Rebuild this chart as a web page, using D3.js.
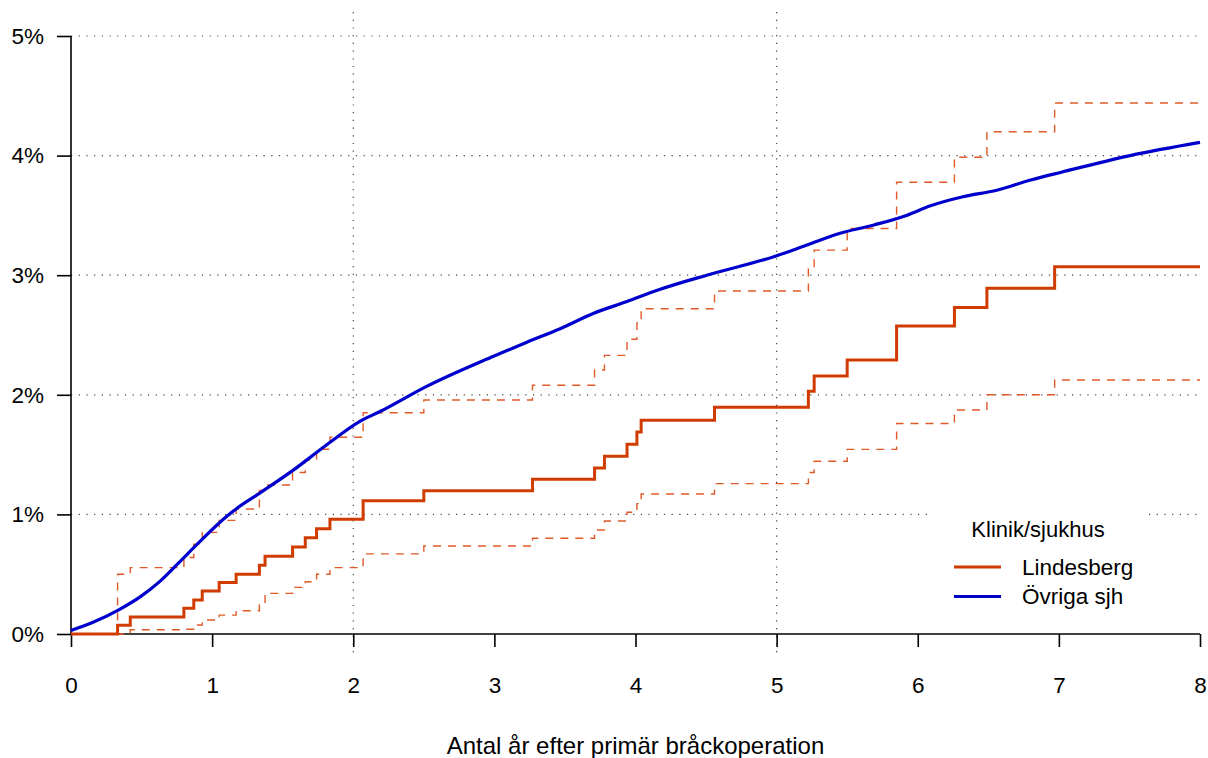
<!DOCTYPE html>
<html>
<head>
<meta charset="utf-8">
<script src="https://cdn.jsdelivr.net/npm/d3@7"></script>
<style>
  body { margin: 0; background: #fff; }
  text { font-family: "Liberation Sans", Arial, sans-serif; fill: #000; }
</style>
</head>
<body>
<div id="chart"></div>
<script>
var width = 1208, height = 758;
var margin = {top: 36, right: 8, bottom: 124, left: 71};

// Lindesberg: step times (years) with estimate and confidence band (%)
var stepTimes = [0, 0.33, 0.42, 0.80, 0.87, 0.93, 1.05, 1.17, 1.335, 1.375, 1.57, 1.66, 1.74, 1.835, 2.07, 2.50,
  3.27, 3.71, 3.78, 3.94, 4.01, 4.04, 4.56, 5.225, 5.266, 5.50, 5.85, 6.26, 6.49, 6.97, 8];
var lindEst = [0, 0.073, 0.142, 0.215, 0.284, 0.36, 0.43, 0.50, 0.575, 0.65, 0.727, 0.805, 0.88, 0.96, 1.115, 1.198,
  1.293, 1.388, 1.486, 1.586, 1.689, 1.787, 1.895, 2.03, 2.157, 2.29, 2.575, 2.73, 2.89, 3.07, 3.07];
var lindUpper = [0, 0.50, 0.555, 0.64, 0.75, 0.85, 0.95, 1.045, 1.20, 1.246, 1.35, 1.455, 1.545, 1.645, 1.85, 1.957,
  2.08, 2.207, 2.33, 2.464, 2.6, 2.72, 2.868, 3.05, 3.21, 3.39, 3.777, 3.986, 4.2, 4.44, 4.44];
var lindLower = [0, 0, 0.035, 0.04, 0.075, 0.117, 0.158, 0.195, 0.243, 0.34, 0.39, 0.437, 0.50, 0.555, 0.67, 0.736,
  0.80, 0.87, 0.945, 1.018, 1.09, 1.17, 1.257, 1.35, 1.445, 1.544, 1.76, 1.873, 2.0, 2.124, 2.124];

// Övriga sjh: curve
var otherTimes = [0, 0.16, 0.335, 0.49, 0.63, 0.83, 1.10, 1.174, 1.34, 1.575, 1.81, 2.05, 2.19, 2.52, 2.99, 3.23,
  3.47, 3.70, 3.94, 4.17, 4.505, 4.98, 5.21, 5.45, 5.69, 5.92, 6.09, 6.32, 6.56, 6.80, 7.03, 7.505, 8.0];
var otherVals = [0.03, 0.10, 0.20, 0.31, 0.44, 0.675, 0.98, 1.05, 1.18, 1.37, 1.58, 1.78, 1.86, 2.07, 2.32, 2.44,
  2.555, 2.68, 2.78, 2.88, 3.0, 3.155, 3.25, 3.35, 3.42, 3.50, 3.58, 3.656, 3.71, 3.796, 3.865, 4.0, 4.11];

var xTicks = [0, 1, 2, 3, 4, 5, 6, 7, 8];
var yTicks = [0, 1, 2, 3, 4, 5];
var xGrid = [2, 5];
var legendNames = ["Lindesberg", "Övriga sjh"];
var legendColors = ["#d03c00", "#0000cc"];

var svg = d3.select("#chart").append("svg")
  .attr("width", width)
  .attr("height", height);

var x = d3.scaleLinear().domain([0, 8]).range([margin.left, width - margin.right]);
var y = d3.scaleLinear().domain([0, 5]).range([height - margin.bottom, margin.top]);

// grid
svg.selectAll(".hgrid").data(yTicks.slice(1)).enter().append("line")
  .attr("x1", x(0)).attr("x2", x(8))
  .attr("y1", function(d){ return y(d); }).attr("y2", function(d){ return y(d); })
  .attr("stroke", "#444").attr("stroke-width", 1.2).attr("stroke-dasharray", "1.2,6.5");
svg.selectAll(".vgrid").data(xGrid).enter().append("line")
  .attr("x1", function(d){ return x(d); }).attr("x2", function(d){ return x(d); })
  .attr("y1", 12).attr("y2", 658)
  .attr("stroke", "#444").attr("stroke-width", 1.2).attr("stroke-dasharray", "1.2,6.5");

// axes
var xAxis = svg.append("g")
  .attr("transform", "translate(0," + y(0) + ")")
  .call(d3.axisBottom(x).tickValues(xTicks).tickSize(13).tickPadding(30).tickFormat(d3.format("d")));
var yAxis = svg.append("g")
  .attr("transform", "translate(" + x(0) + ",0)")
  .call(d3.axisLeft(y).tickValues(yTicks).tickSize(14).tickPadding(13).tickFormat(function(d){ return d + "%"; }));
[xAxis, yAxis].forEach(function(g){
  g.select(".domain").attr("stroke", "#000").attr("stroke-width", 1.6);
  g.selectAll(".tick line").attr("stroke", "#000").attr("stroke-width", 1.6);
  g.selectAll(".tick text").attr("font-size", "22.5px").attr("font-family", "Liberation Sans, Arial, sans-serif").attr("fill", "#000");
});
xAxis.select(".domain").attr("d", "M" + x(0) + ",0H" + x(8));
yAxis.select(".domain").attr("d", "M0," + y(0) + "V" + y(5));

// legend box (white, covers gridlines)
svg.append("rect")
  .attr("x", 931).attr("y", 503).attr("width", 217).attr("height", 125)
  .attr("fill", "#fff");

// series
function pts(ts, vs){ return ts.map(function(t, i){ return [t, vs[i]]; }); }
var stepLine = d3.line().x(function(d){ return x(d[0]); }).y(function(d){ return y(d[1]); }).curve(d3.curveStepAfter);
var smoothLine = d3.line().x(function(d){ return x(d[0]); }).y(function(d){ return y(d[1]); }).curve(d3.curveMonotoneX);

[lindUpper, lindLower].forEach(function(vals){
  svg.append("path")
    .attr("d", stepLine(pts(stepTimes, vals)))
    .attr("fill", "none").attr("stroke", "#e05a28").attr("stroke-width", 1.4)
    .attr("stroke-dasharray", "8,7");
});
svg.append("path")
  .attr("d", stepLine(pts(stepTimes, lindEst)))
  .attr("fill", "none").attr("stroke", legendColors[0]).attr("stroke-width", 3);
svg.append("path")
  .attr("d", smoothLine(pts(otherTimes, otherVals)))
  .attr("fill", "none").attr("stroke", legendColors[1]).attr("stroke-width", 3.2);

// legend
svg.append("text").text("Klinik/sjukhus")
  .attr("x", 1038).attr("y", 537).attr("text-anchor", "middle").attr("font-size", "22px");
legendNames.forEach(function(name, i){
  var ly = 567 + i * 29.5;
  svg.append("line").attr("x1", 954).attr("x2", 1001).attr("y1", ly).attr("y2", ly)
    .attr("stroke", legendColors[i]).attr("stroke-width", 3);
  svg.append("text").text(name)
    .attr("x", 1022).attr("y", ly + 7.5).attr("font-size", "22.5px");
});

// axis title
svg.append("text").text("Antal år efter primär bråckoperation")
  .attr("x", (x(0) + x(8)) / 2).attr("y", 754)
  .attr("text-anchor", "middle").attr("font-size", "24px");
</script>
</body>
</html>
